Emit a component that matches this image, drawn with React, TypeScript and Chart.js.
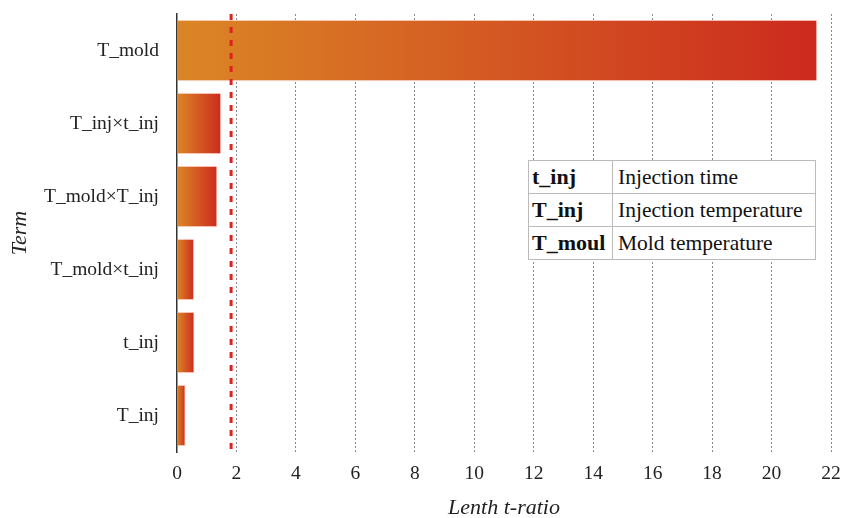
import React, { useEffect, useRef } from "react";
import { Chart, registerables } from "chart.js";

Chart.register(...registerables);

const terms = ["T_mold", "T_inj×t_inj", "T_mold×T_inj", "T_mold×t_inj", "t_inj", "T_inj"];
const tRatios = [21.54, 1.49, 1.36, 0.58, 0.59, 0.29];
const marginOfError = 1.82;
const xTickMax = 22;
const xTickStep = 2;
const legendKeys = ["t_inj", "T_inj", "T_moul"];
const legendDescriptions = ["Injection time", "Injection temperature", "Mold temperature"];

const FONT = "'Liberation Serif', 'Times New Roman', serif";

const refLinePlugin = {
  id: "refLine",
  afterDatasetsDraw(chart: any) {
    const { ctx, chartArea, scales } = chart;
    const x = scales.x.getPixelForValue(marginOfError);
    ctx.save();
    ctx.strokeStyle = "#dd2222";
    ctx.lineWidth = 3;
    ctx.setLineDash([6, 7]);
    ctx.beginPath();
    ctx.moveTo(x, chartArea.top);
    ctx.lineTo(x, chartArea.bottom);
    ctx.stroke();
    ctx.restore();
  },
};

export default function App() {
  const canvasRef = useRef<HTMLCanvasElement | null>(null);

  useEffect(() => {
    const canvas = canvasRef.current;
    if (!canvas) return;
    const chart = new Chart(canvas, {
      type: "bar",
      data: {
        labels: terms,
        datasets: [
          {
            data: tRatios,
            backgroundColor: (c: any) => {
              const ch = c.chart;
              const { ctx, chartArea, scales } = ch;
              if (!chartArea || !scales || !scales.x) return "#d55a25";
              const x0 = scales.x.getPixelForValue(0);
              const x1 = scales.x.getPixelForValue(c.raw ?? 1);
              const g = ctx.createLinearGradient(x0, 0, Math.max(x1, x0 + 1), 0);
              g.addColorStop(0, "#db8626");
              g.addColorStop(1, "#cc2a1e");
              return g;
            },
            borderColor: "rgba(255,200,185,0.55)",
            borderWidth: 1,
            borderSkipped: "start",
            barPercentage: 0.84,
            categoryPercentage: 1,
          },
        ],
      },
      options: {
        indexAxis: "y",
        animation: false,
        responsive: false,
        layout: { padding: { top: 14, right: 13, left: 0, bottom: 0 } },
        plugins: {
          legend: { display: false },
          tooltip: { enabled: false },
        },
        scales: {
          x: {
            min: 0,
            max: xTickMax,
            ticks: {
              stepSize: xTickStep,
              color: "#222",
              padding: 10,
              font: { family: FONT, size: 19.5 },
            },
            grid: {
              display: true,
              drawTicks: false,
              color: (c: any) => (c.tick && c.tick.value === 0 ? "rgba(0,0,0,0)" : "#8a8a8a"),
              lineWidth: 1,
            },
            border: { display: false, dash: [2, 2] },
            title: {
              display: true,
              text: "Lenth t-ratio",
              color: "#222",
              font: { family: FONT, size: 22, style: "italic", lineHeight: 0.85 },
              padding: { top: 0, bottom: 0 },
            },
            afterFit: (s: any) => {
              s.height = 66;
              s.paddingLeft = 0;
              s.paddingRight = 0;
            },
          },
          y: {
            ticks: {
              color: "#222",
              padding: 18,
              font: { family: FONT, size: 19.5 },
            },
            grid: { display: false, drawTicks: false },
            border: { display: true, color: "#333", width: 1.5 },
            title: {
              display: true,
              text: "Term",
              color: "#222",
              font: { family: FONT, size: 22, style: "italic", lineHeight: 1 },
              padding: { top: 9, bottom: 0 },
            },
            afterFit: (s: any) => {
              s.width = 177;
              s.paddingTop = 0;
              s.paddingBottom = 0;
            },
          },
        },
      },
      plugins: [refLinePlugin],
    } as any);
    return () => chart.destroy();
  }, []);

  const cellBase: React.CSSProperties = {
    border: "1px solid #bbbbbb",
    padding: "0 0 0 5px",
    height: 32,
    fontFamily: FONT,
    fontSize: 21.5,
    color: "#111",
    whiteSpace: "nowrap",
    lineHeight: "32px",
  };

  return (
    <div style={{ position: "absolute", left: 0, top: 0, width: 844, height: 518, background: "#fff" }}>
      <canvas ref={canvasRef} width={844} height={518} style={{ display: "block", width: 844, height: 518 }} />
      <table
        style={{
          position: "absolute",
          left: 528,
          top: 160,
          width: 287,
          borderCollapse: "collapse",
          background: "#fff",
          tableLayout: "fixed",
        }}
      >
        <colgroup>
          <col style={{ width: 84 }} />
          <col style={{ width: 203 }} />
        </colgroup>
        <tbody>
          {legendKeys.map((k, i) => (
            <tr key={k}>
              <td style={{ ...cellBase, fontWeight: "bold", fontSize: 22, padding: "0 0 0 3px" }}>{k}</td>
              <td style={cellBase}>{legendDescriptions[i]}</td>
            </tr>
          ))}
        </tbody>
      </table>
    </div>
  );
}
